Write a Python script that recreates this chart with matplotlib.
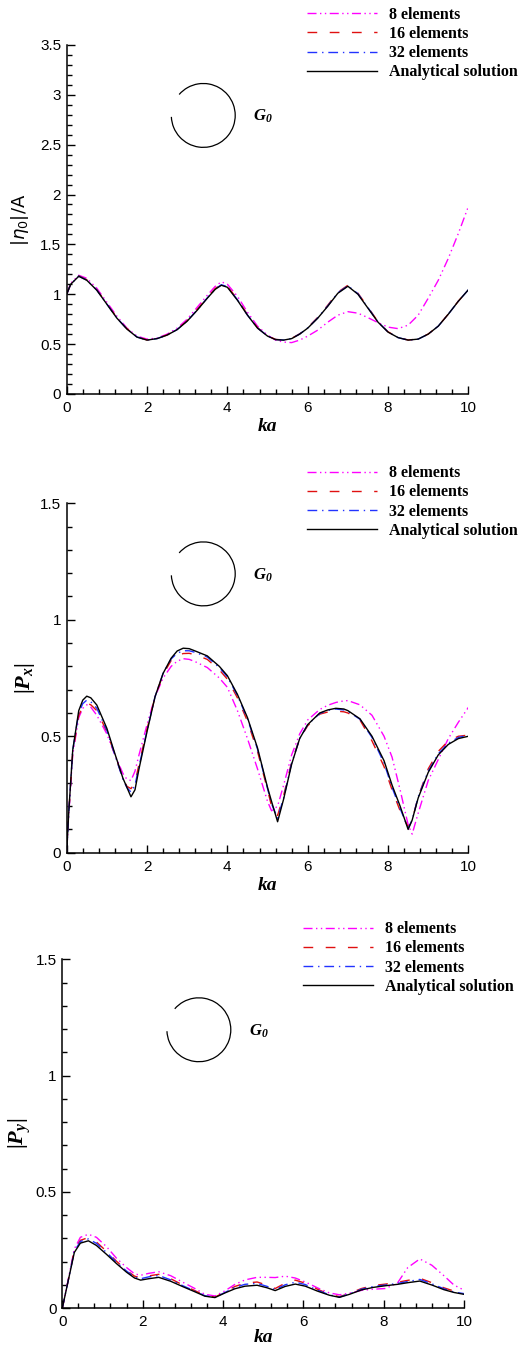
import numpy as np
import matplotlib
matplotlib.use('Agg')
import matplotlib.pyplot as plt
from matplotlib.patches import Arc
from matplotlib.ticker import MultipleLocator, FormatStrFormatter

plt.rcParams['font.family'] = 'Liberation Sans'
plt.rcParams['lines.scale_dashes'] = False
plt.rcParams['mathtext.fontset'] = 'custom'
plt.rcParams['mathtext.rm'] = 'Liberation Serif:bold'
plt.rcParams['mathtext.bf'] = 'Liberation Serif:bold:italic'
plt.rcParams['mathtext.it'] = 'Liberation Serif:bold:italic'


# DATA — |eta0|/A

ka1 = [0, 0.1, 0.3, 0.5, 0.75, 1.0, 1.25, 1.5, 1.75, 2.0, 2.25, 2.5, 2.75, 3.0, 3.25,
       3.5, 3.7, 3.85, 4.0, 4.25, 4.5, 4.75, 5.0, 5.2, 5.4, 5.6, 5.8, 6.0, 6.25, 6.5,
       6.75, 7.0, 7.25, 7.5, 7.75, 8.0, 8.25, 8.5, 8.75, 9.0, 9.25, 9.5, 9.75, 10.0]
eta_8 = [1.00, 1.11, 1.19, 1.16, 1.06, 0.92, 0.78, 0.66, 0.58, 0.55, 0.56, 0.60, 0.66, 0.75, 0.87,
         0.99, 1.08, 1.125, 1.10, 0.98, 0.82, 0.68, 0.59, 0.54, 0.52, 0.515, 0.54, 0.58, 0.64, 0.72,
         0.79, 0.825, 0.81, 0.765, 0.715, 0.67, 0.655, 0.69, 0.79, 0.96, 1.14, 1.36, 1.61, 1.88]
eta_16 = [1.00, 1.10, 1.185, 1.145, 1.045, 0.905, 0.765, 0.655, 0.572, 0.542, 0.556, 0.592, 0.648, 0.735, 0.848,
          0.968, 1.058, 1.10, 1.08, 0.95, 0.795, 0.665, 0.583, 0.547, 0.541, 0.557, 0.603, 0.665, 0.768, 0.89,
          1.02, 1.09, 1.01, 0.87, 0.725, 0.623, 0.566, 0.541, 0.551, 0.601, 0.681, 0.801, 0.931, 1.046]
eta_32 = [1.00, 1.10, 1.182, 1.142, 1.042, 0.902, 0.762, 0.652, 0.571, 0.541, 0.555, 0.591, 0.646, 0.732, 0.843,
          0.963, 1.053, 1.095, 1.075, 0.945, 0.792, 0.662, 0.581, 0.546, 0.540, 0.556, 0.601, 0.662, 0.763, 0.884,
          1.014, 1.085, 1.005, 0.865, 0.722, 0.621, 0.565, 0.540, 0.550, 0.600, 0.680, 0.800, 0.930, 1.045]
eta_exact = [1.00, 1.10, 1.18, 1.14, 1.04, 0.90, 0.76, 0.65, 0.57, 0.54, 0.555, 0.59, 0.645, 0.73, 0.84,
             0.96, 1.05, 1.09, 1.07, 0.94, 0.79, 0.66, 0.58, 0.545, 0.54, 0.555, 0.60, 0.66, 0.76, 0.88,
             1.01, 1.08, 1.00, 0.86, 0.72, 0.62, 0.565, 0.54, 0.55, 0.60, 0.68, 0.80, 0.93, 1.045]


# DATA — |Px|

ka2 = [0, 0.05, 0.15, 0.3, 0.4, 0.5, 0.6, 0.75, 1.0, 1.2, 1.4, 1.5, 1.6, 1.7, 1.8, 2.0, 2.2, 2.4,
       2.6, 2.75, 2.9, 3.05, 3.2, 3.5, 3.8, 4.0, 4.25, 4.5, 4.75, 5.0, 5.1, 5.25, 5.4, 5.6, 5.8, 6.0,
       6.3, 6.5, 6.7, 6.9, 7.0, 7.3, 7.6, 7.9, 8.1, 8.3, 8.5, 8.6, 8.75, 9.0, 9.25, 9.5, 9.75, 10.0]
px_8 = [0.0, 0.16, 0.42, 0.58, 0.62, 0.635, 0.625, 0.59, 0.51, 0.42, 0.34, 0.315, 0.31, 0.35, 0.42, 0.55, 0.67, 0.75,
        0.80, 0.822, 0.833, 0.830, 0.82, 0.795, 0.75, 0.71, 0.61, 0.49, 0.36, 0.22, 0.18, 0.20, 0.29, 0.42, 0.51, 0.57,
        0.615, 0.633, 0.645, 0.652, 0.653, 0.635, 0.59, 0.50, 0.41, 0.27, 0.12, 0.08, 0.17, 0.31, 0.40, 0.49, 0.56, 0.624]
px_16 = [0.0, 0.17, 0.43, 0.59, 0.627, 0.642, 0.635, 0.61, 0.52, 0.42, 0.32, 0.285, 0.275, 0.30, 0.38, 0.53, 0.67, 0.765,
         0.825, 0.845, 0.855, 0.856, 0.85, 0.83, 0.785, 0.745, 0.665, 0.565, 0.435, 0.27, 0.20, 0.16, 0.245, 0.39, 0.49, 0.545,
         0.595, 0.604, 0.608, 0.605, 0.60, 0.57, 0.48, 0.37, 0.27, 0.18, 0.11, 0.14, 0.24, 0.36, 0.435, 0.48, 0.50, 0.505]
px_32 = [0.0, 0.17, 0.44, 0.60, 0.64, 0.655, 0.648, 0.62, 0.525, 0.42, 0.315, 0.28, 0.26, 0.29, 0.37, 0.525, 0.67, 0.77,
         0.832, 0.856, 0.867, 0.867, 0.86, 0.84, 0.795, 0.755, 0.675, 0.575, 0.445, 0.275, 0.21, 0.148, 0.235, 0.385, 0.49, 0.55,
         0.598, 0.611, 0.617, 0.613, 0.607, 0.573, 0.495, 0.385, 0.28, 0.19, 0.105, 0.14, 0.24, 0.35, 0.425, 0.47, 0.495, 0.505]
px_exact = [0.0, 0.17, 0.44, 0.61, 0.655, 0.672, 0.665, 0.634, 0.534, 0.425, 0.32, 0.28, 0.24, 0.27, 0.36, 0.52, 0.67, 0.77,
            0.835, 0.866, 0.878, 0.876, 0.866, 0.845, 0.80, 0.76, 0.68, 0.58, 0.45, 0.28, 0.22, 0.133, 0.23, 0.38, 0.49, 0.55,
            0.60, 0.613, 0.62, 0.617, 0.61, 0.575, 0.50, 0.395, 0.29, 0.20, 0.10, 0.14, 0.235, 0.345, 0.42, 0.465, 0.49, 0.50]


# DATA — |Py|

ka3 = [0, 0.15, 0.3, 0.45, 0.65, 0.85, 1.1, 1.35, 1.6, 1.8, 1.95, 2.15, 2.4, 2.7, 3.0, 3.3,
       3.55, 3.8, 4.05, 4.3, 4.55, 4.85, 5.1, 5.3, 5.55, 5.8, 6.05, 6.35, 6.65, 6.9, 7.15,
       7.45, 7.75, 8.05, 8.35, 8.6, 8.9, 9.2, 9.5, 9.75, 10.0]
py_8 = [0.0, 0.125, 0.255, 0.305, 0.318, 0.305, 0.265, 0.215, 0.175, 0.148, 0.142, 0.150, 0.157, 0.140, 0.112, 0.085,
        0.060, 0.053, 0.075, 0.103, 0.122, 0.133, 0.133, 0.132, 0.138, 0.130, 0.113, 0.088, 0.066, 0.058, 0.065,
        0.077, 0.082, 0.085, 0.110, 0.175, 0.212, 0.185, 0.140, 0.100, 0.078]
py_16 = [0.0, 0.122, 0.248, 0.292, 0.304, 0.285, 0.245, 0.202, 0.163, 0.138, 0.131, 0.139, 0.146, 0.127, 0.100, 0.076,
         0.055, 0.048, 0.070, 0.094, 0.108, 0.113, 0.099, 0.085, 0.108, 0.121, 0.108, 0.082, 0.060, 0.050, 0.064,
         0.085, 0.098, 0.104, 0.112, 0.120, 0.129, 0.110, 0.088, 0.074, 0.066]
py_32 = [0.0, 0.121, 0.245, 0.287, 0.298, 0.279, 0.240, 0.198, 0.160, 0.134, 0.127, 0.135, 0.141, 0.122, 0.097, 0.074,
         0.054, 0.047, 0.068, 0.090, 0.103, 0.107, 0.094, 0.080, 0.101, 0.112, 0.102, 0.078, 0.058, 0.048, 0.062,
         0.082, 0.094, 0.100, 0.107, 0.115, 0.124, 0.105, 0.084, 0.070, 0.063]
py_exact = [0.0, 0.120, 0.240, 0.280, 0.290, 0.270, 0.232, 0.192, 0.155, 0.130, 0.121, 0.127, 0.133, 0.116, 0.093, 0.071,
            0.052, 0.046, 0.066, 0.084, 0.095, 0.099, 0.088, 0.076, 0.094, 0.104, 0.095, 0.074, 0.056, 0.047, 0.060,
            0.079, 0.090, 0.097, 0.103, 0.110, 0.117, 0.100, 0.080, 0.068, 0.060]


labels = ['8 elements', '16 elements', '32 elements', 'Analytical solution']
colors = ['#FF00FF', '#E01010', '#2233FF', 'black']
styles = [(0, (6.5, 2.5, 1, 2.5, 1, 2.5)), (0, (7, 9)), (0, (7, 3.5, 1, 3.5)), '-']

panels = [
    (ka1, [eta_8, eta_16, eta_32, eta_exact], 3.5, r'$|\eta_{0}|/\mathrm{A}$', 'dejavusans', 13,
     [0.1285, 0.7071, 0.774, 0.2595], -0.09, -0.07),
    (ka2, [px_8, px_16, px_32, px_exact], 1.5, r'$|\mathbf{P_x}|$', 'custom', 16,
     [0.1285, 0.3660, 0.774, 0.2598], -0.075, -0.07),
    (ka3, [py_8, py_16, py_32, py_exact], 1.5, r'$|\mathbf{P_y}|$', 'custom', 16,
     [0.1200, 0.0273, 0.774, 0.2595], -0.072, -0.058),
]

serif_bold = {'family': 'Liberation Serif', 'weight': 'bold', 'size': 11.5}

fig = plt.figure(figsize=(5.19, 13.45), dpi=100)

for ka, series, ymax, ylab, mfont, ysize, pos, ylab_x, xlab_y in panels:
    ax = fig.add_axes(pos)
    for vals, lab, col, ls in zip(series, labels, colors, styles):
        ax.plot(ka, vals, color=col, linestyle=ls, linewidth=1.0, label=lab)

    ax.set_xlim(0, 10)
    ax.set_ylim(0, ymax)
    ax.spines['top'].set_visible(False)
    ax.spines['right'].set_visible(False)
    ax.spines['left'].set_linewidth(1.1)
    ax.spines['bottom'].set_linewidth(1.1)
    ax.xaxis.set_major_locator(MultipleLocator(2))
    ax.xaxis.set_minor_locator(MultipleLocator(0.4))
    ax.yaxis.set_major_locator(MultipleLocator(0.5))
    ax.yaxis.set_minor_locator(MultipleLocator(0.1))
    ax.xaxis.set_major_formatter(FormatStrFormatter('%g'))
    ax.yaxis.set_major_formatter(FormatStrFormatter('%g'))
    ax.tick_params(which='both', direction='in', top=False, right=False, width=1.0)
    ax.tick_params(which='major', length=6, labelsize=11)
    ax.tick_params(which='minor', length=3.5)
    ax.tick_params(axis='x', pad=5)
    ax.tick_params(axis='y', pad=4)

    ax.set_xlabel('ka', fontfamily='Liberation Serif', fontweight='bold',
                  fontstyle='italic', fontsize=14)
    ax.xaxis.set_label_coords(0.5, xlab_y)
    ax.set_ylabel(ylab, fontsize=ysize, math_fontfamily=mfont)
    ax.yaxis.set_label_coords(ylab_x, 0.5)

    # small body sketch with its label
    ax.add_patch(Arc((0.34, 0.798), 0.159, 0.183, theta1=-177, theta2=135,
                     transform=ax.transAxes, color='black', linewidth=0.9))
    ax.text(0.464, 0.795, r'$\mathbf{G_0}$', transform=ax.transAxes,
            fontsize=12, math_fontfamily='custom', va='center', ha='left')

    ax.legend(loc='upper left', bbox_to_anchor=(0.598, 1.109), frameon=False,
              prop=serif_bold, handlelength=4.4, handletextpad=0.75,
              labelspacing=0.2, borderpad=0, borderaxespad=0)

plt.savefig('out.png', dpi=100)
plt.close()
